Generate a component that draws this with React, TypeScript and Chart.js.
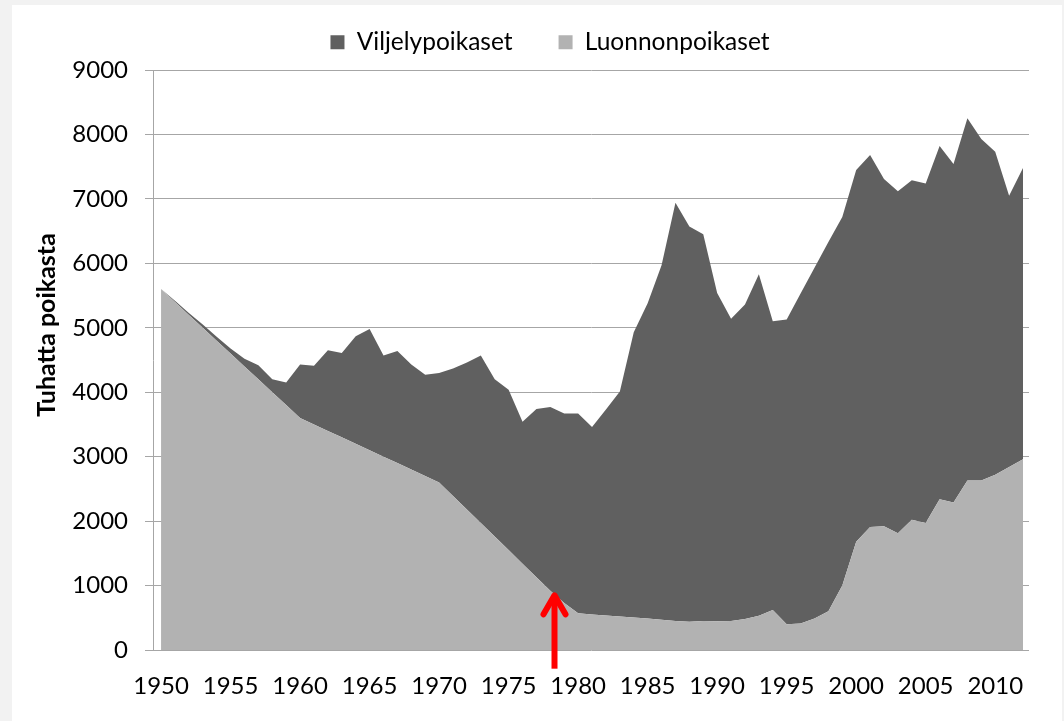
import React, { useEffect, useRef } from 'react';
import { Chart, registerables } from 'chart.js';

Chart.register(...registerables);

const YEARS = [
  1950, 1951, 1952, 1953, 1954, 1955, 1956, 1957, 1958, 1959,
  1960, 1961, 1962, 1963, 1964, 1965, 1966, 1967, 1968, 1969,
  1970, 1971, 1972, 1973, 1974, 1975, 1976, 1977, 1978, 1979,
  1980, 1981, 1982, 1983, 1984, 1985, 1986, 1987, 1988, 1989,
  1990, 1991, 1992, 1993, 1994, 1995, 1996, 1997, 1998, 1999,
  2000, 2001, 2002, 2003, 2004, 2005, 2006, 2007, 2008, 2009,
  2010, 2011, 2012,
];

// Top of the stacked area (total fry, thousands)
const TOTAL = [
  5600, 5420, 5230, 5050, 4860, 4680, 4520, 4420, 4200, 4150,
  4430, 4410, 4650, 4610, 4870, 4980, 4570, 4640, 4430, 4270,
  4300, 4370, 4460, 4570, 4200, 4040, 3540, 3740, 3770, 3670,
  3670, 3460, 3730, 4010, 4930, 5380, 5970, 6940, 6570, 6450,
  5540, 5140, 5360, 5830, 5100, 5130, 5530, 5930, 6330, 6720,
  7450, 7680, 7310, 7120, 7290, 7240, 7820, 7540, 8250, 7930,
  7730, 7050, 7480,
];

// Natural (wild) fry, thousands
const WILD = [
  5600, 5400, 5200, 5000, 4800, 4600, 4400, 4200, 4000, 3800,
  3600, 3500, 3400, 3300, 3200, 3100, 3000, 2900, 2800, 2700,
  2600, 2390, 2180, 1970, 1760, 1550, 1340, 1130, 920, 730,
  570, 550, 535, 520, 505, 490, 470, 450, 440, 450,
  445, 450, 480, 530, 620, 400, 410, 490, 600, 1000,
  1680, 1910, 1920, 1810, 2020, 1970, 2340, 2290, 2630, 2630,
  2720, 2840, 2960,
];

const X_TICKS = [1950, 1955, 1960, 1965, 1970, 1975, 1980, 1985, 1990, 1995, 2000, 2005, 2010];
const SERIES_LABELS = ['Viljelypoikaset', 'Luonnonpoikaset'];
const SERIES_COLORS = ['#606060', '#b2b2b2'];
const Y_TITLE = 'Tuhatta poikasta';
const Y_MIN = 0;
const Y_MAX = 9000;
const Y_STEP = 1000;

// Red arrow annotation (data units)
const ARROW_YEAR = 1978.3;
const ARROW_TIP = 880;
const ARROW_TAIL = -290;

const FONT_FAMILY = 'Lato, "Open Sans", sans-serif';

const yTitlePlugin = {
  id: 'yTitleCustom',
  afterDraw(chart: any) {
    const { ctx, chartArea } = chart;
    ctx.save();
    ctx.translate(35, (chartArea.top + chartArea.bottom) / 2 - 35);
    ctx.rotate(-Math.PI / 2);
    ctx.font = `bold 25px ${FONT_FAMILY}`;
    ctx.fillStyle = '#000';
    ctx.textAlign = 'center';
    ctx.textBaseline = 'middle';
    ctx.fillText(Y_TITLE, 0, 0);
    ctx.restore();
  },
};

const arrowPlugin = {
  id: 'redArrow',
  afterDraw(chart: any) {
    const { ctx } = chart;
    const x = chart.scales.x.getPixelForValue(ARROW_YEAR);
    const yTip = chart.scales.y.getPixelForValue(ARROW_TIP);
    const yTail = chart.scales.y.getPixelForValue(ARROW_TAIL);
    ctx.save();
    ctx.strokeStyle = '#ff0000';
    ctx.lineWidth = 6;
    ctx.lineCap = 'butt';
    ctx.beginPath();
    ctx.moveTo(x, yTail);
    ctx.lineTo(x, yTip + 3);
    ctx.stroke();
    ctx.lineCap = 'round';
    ctx.lineJoin = 'round';
    ctx.beginPath();
    ctx.moveTo(x - 11, yTip + 21);
    ctx.lineTo(x, yTip + 2);
    ctx.lineTo(x + 11, yTip + 21);
    ctx.stroke();
    ctx.restore();
  },
};

export default function App() {
  const ref = useRef<HTMLCanvasElement>(null);

  useEffect(() => {
    if (!ref.current) return;
    const farmed = TOTAL.map((t, i) => t - WILD[i]);
    const font = { family: FONT_FAMILY, size: 24 };
    const gridColor = '#a6a6a6';

    const chart = new Chart(ref.current, {
      type: 'line',
      data: {
        datasets: [
          {
            label: SERIES_LABELS[1],
            data: YEARS.map((y, i) => ({ x: y, y: WILD[i] })),
            backgroundColor: SERIES_COLORS[1],
            borderColor: SERIES_COLORS[1],
            borderWidth: 0,
            pointRadius: 0,
            fill: 'origin',
            tension: 0,
          },
          {
            label: SERIES_LABELS[0],
            data: YEARS.map((y, i) => ({ x: y, y: farmed[i] })),
            backgroundColor: SERIES_COLORS[0],
            borderColor: SERIES_COLORS[0],
            borderWidth: 0,
            pointRadius: 0,
            fill: '-1',
            tension: 0,
          },
        ],
      },
      options: {
        responsive: false,
        animation: false,
        layout: { padding: { left: 59, right: 33, top: -21, bottom: 0 } },
        plugins: {
          legend: {
            position: 'top',
            labels: {
              boxWidth: 14,
              boxHeight: 14,
              padding: 46,
              color: '#000',
              font: { family: FONT_FAMILY, size: 24.5 },
              sort: (a: any, b: any) => b.datasetIndex - a.datasetIndex,
            },
          },
          title: {
            display: true,
            text: '',
            weight: 500,
            padding: { top: 0, bottom: 4.5 },
            font: { size: 1, lineHeight: 1 },
          },
          tooltip: { enabled: false },
        },
        scales: {
          x: {
            type: 'linear',
            min: 1949.42,
            max: 2012.43,
            grid: { display: false, drawTicks: false },
            border: { display: false },
            ticks: {
              color: '#000',
              font,
              padding: 22,
              maxRotation: 0,
              autoSkip: false,
              callback: (v: any) => String(v),
            },
            afterBuildTicks: (s: any) => {
              s.ticks = X_TICKS.map((v) => ({ value: v }));
            },
            afterFit: (s: any) => {
              s.height = 71;
            },
          },
          y: {
            stacked: true,
            min: Y_MIN,
            max: Y_MAX,
            ticks: {
              stepSize: Y_STEP,
              padding: 17,
              color: '#000',
              font,
              callback: (v: any) => String(v),
            },
            grid: { color: gridColor, lineWidth: 1, tickLength: 8, drawTicks: true },
            border: { display: true, color: gridColor, width: 1 },
            afterFit: (s: any) => {
              s.width = 82;
            },
          },
        },
      },
      plugins: [yTitlePlugin, arrowPlugin],
    } as any);

    return () => chart.destroy();
  }, []);

  return (
    <div style={{ position: 'fixed', left: 0, top: 0, width: 1064, height: 721, background: '#f2f2f2' }}>
      <div style={{ position: 'absolute', left: 12, top: 5, width: 1050, height: 716, background: '#ffffff' }}>
        <canvas ref={ref} width={1050} height={716} style={{ display: 'block' }} />
      </div>
    </div>
  );
}
